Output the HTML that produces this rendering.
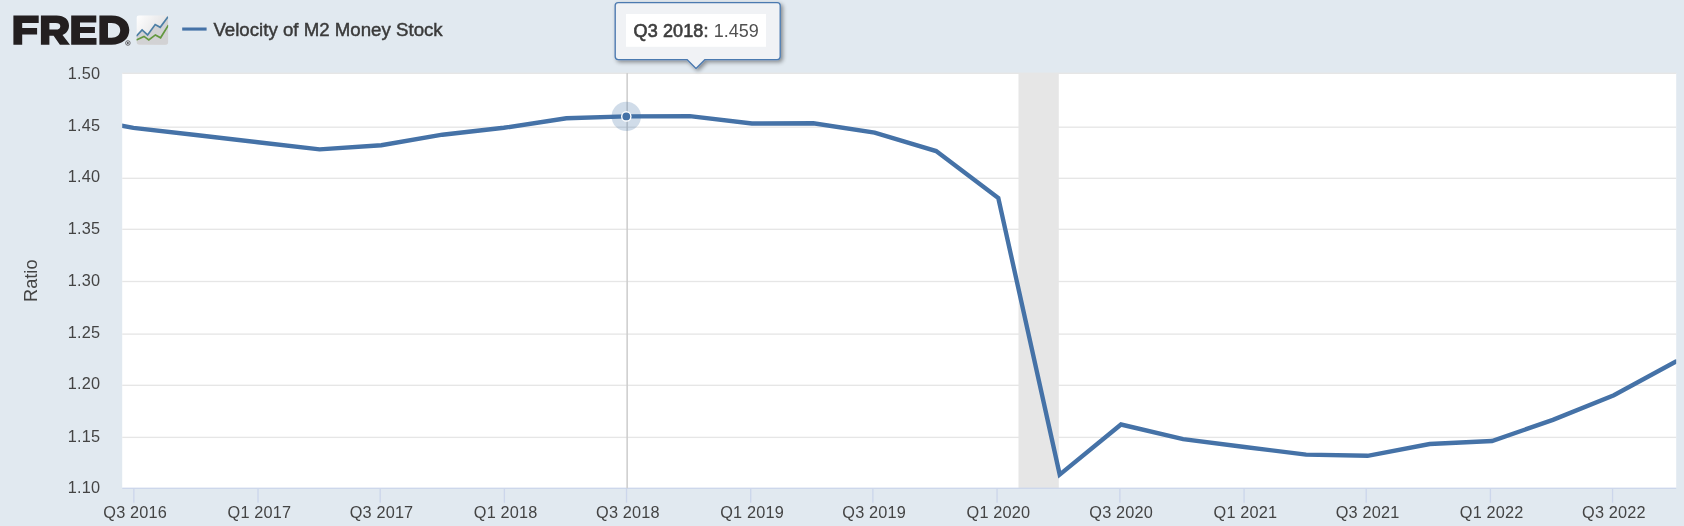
<!DOCTYPE html>
<html><head><meta charset="utf-8"><title>FRED Graph</title>
<style>
html,body{margin:0;padding:0;background:#e1e9f0;}
body{width:1684px;height:526px;overflow:hidden;font-family:"Liberation Sans",sans-serif;}
svg{display:block;will-change:transform;}
text{font-family:"Liberation Sans",sans-serif;}
</style></head><body>
<svg width="1684" height="526" viewBox="0 0 1684 526">
<defs>
<clipPath id="plotclip"><rect x="122.2" y="73.1" width="1554.0" height="415.20000000000005"/></clipPath>
<linearGradient id="icg" x1="0" y1="0" x2="1" y2="0.6"><stop offset="0" stop-color="#ffffff"/><stop offset="1" stop-color="#dcdcde"/></linearGradient>
<clipPath id="icclip"><rect x="136.5" y="15.3" width="31.7" height="29.5" rx="3"/></clipPath>
<filter id="tsh" x="-10%" y="-20%" width="125%" height="150%"><feGaussianBlur in="SourceAlpha" stdDeviation="1.9"/><feOffset dx="1.6" dy="1.6"/><feComponentTransfer><feFuncA type="linear" slope="0.42"/></feComponentTransfer><feMerge><feMergeNode/><feMergeNode in="SourceGraphic"/></feMerge></filter>
</defs>
<rect width="1684" height="526" fill="#e1e9f0"/>

<rect x="122.2" y="73.1" width="1554.0" height="415.20000000000005" fill="#ffffff"/>
<rect x="1018.5" y="73.1" width="40.3" height="415.20000000000005" fill="#e6e6e6"/>
<rect x="122.2" y="72.6" width="1554.0" height="1.4" fill="#e6e6e6"/>
<rect x="122.2" y="126.53" width="1554.0" height="1.34" fill="#e6e6e6"/>
<rect x="122.2" y="177.63" width="1554.0" height="1.34" fill="#e6e6e6"/>
<rect x="122.2" y="228.63" width="1554.0" height="1.34" fill="#e6e6e6"/>
<rect x="122.2" y="280.83" width="1554.0" height="1.34" fill="#e6e6e6"/>
<rect x="122.2" y="333.43" width="1554.0" height="1.34" fill="#e6e6e6"/>
<rect x="122.2" y="384.63" width="1554.0" height="1.34" fill="#e6e6e6"/>
<rect x="122.2" y="436.73" width="1554.0" height="1.34" fill="#e6e6e6"/>
<rect x="122.2" y="487.63" width="1554.0" height="1.34" fill="#ccd6eb"/>
<rect x="133.18" y="488.3" width="1.34" height="14.4" fill="#ccd6eb"/>
<rect x="257.36" y="488.3" width="1.34" height="14.4" fill="#ccd6eb"/>
<rect x="379.52" y="488.3" width="1.34" height="14.4" fill="#ccd6eb"/>
<rect x="503.70" y="488.3" width="1.34" height="14.4" fill="#ccd6eb"/>
<rect x="625.86" y="488.3" width="1.34" height="14.4" fill="#ccd6eb"/>
<rect x="750.04" y="488.3" width="1.34" height="14.4" fill="#ccd6eb"/>
<rect x="872.20" y="488.3" width="1.34" height="14.4" fill="#ccd6eb"/>
<rect x="996.38" y="488.3" width="1.34" height="14.4" fill="#ccd6eb"/>
<rect x="1119.21" y="488.3" width="1.34" height="14.4" fill="#ccd6eb"/>
<rect x="1243.39" y="488.3" width="1.34" height="14.4" fill="#ccd6eb"/>
<rect x="1365.55" y="488.3" width="1.34" height="14.4" fill="#ccd6eb"/>
<rect x="1489.73" y="488.3" width="1.34" height="14.4" fill="#ccd6eb"/>
<rect x="1611.89" y="488.3" width="1.34" height="14.4" fill="#ccd6eb"/>
<rect x="626.40" y="73.1" width="1.5" height="415.20000000000005" fill="#cccccc"/>
<g clip-path="url(#plotclip)"><polyline points="72.3,116.1 133.4,127.9 195.8,135.0 257.9,142.2 319.6,149.4 381.3,145.2 442.4,134.7 503.8,127.8 566.4,118.3 626.3,116.4 689.8,116.1 751.9,123.5 813.3,123.3 874.6,132.7 936.1,151.1 998.3,197.9 1059.7,474.6 1121.0,424.5 1183.1,439.1 1244.6,447.0 1306.1,454.6 1367.6,455.8 1429.7,444.0 1492.0,441.0 1552.9,419.9 1613.9,395.3 1676.0,361.5" fill="none" stroke="#4572a7" stroke-width="4.4" stroke-linejoin="miter" stroke-miterlimit="3" stroke-linecap="round"/></g>
<circle cx="626.3" cy="116.4" r="14.7" fill="#4572a7" fill-opacity="0.25"/>
<circle cx="626.3" cy="116.4" r="4.6" fill="#4572a7" stroke="#ffffff" stroke-width="1.4"/>
<text x="100.2" y="78.8" font-size="16.3" fill="#444444" text-anchor="end" letter-spacing="0.2">1.50</text>
<text x="100.2" y="131.0" font-size="16.3" fill="#444444" text-anchor="end" letter-spacing="0.2">1.45</text>
<text x="100.2" y="182.3" font-size="16.3" fill="#444444" text-anchor="end" letter-spacing="0.2">1.40</text>
<text x="100.2" y="234.0" font-size="16.3" fill="#444444" text-anchor="end" letter-spacing="0.2">1.35</text>
<text x="100.2" y="286.0" font-size="16.3" fill="#444444" text-anchor="end" letter-spacing="0.2">1.30</text>
<text x="100.2" y="338.0" font-size="16.3" fill="#444444" text-anchor="end" letter-spacing="0.2">1.25</text>
<text x="100.2" y="389.2" font-size="16.3" fill="#444444" text-anchor="end" letter-spacing="0.2">1.20</text>
<text x="100.2" y="441.9" font-size="16.3" fill="#444444" text-anchor="end" letter-spacing="0.2">1.15</text>
<text x="100.2" y="493.1" font-size="16.3" fill="#444444" text-anchor="end" letter-spacing="0.2">1.10</text>
<text transform="translate(37.3,280.7) rotate(-90)" font-size="18.2" fill="#444444" text-anchor="middle">Ratio</text>
<text x="135.2" y="517.8" font-size="16.3" fill="#444444" text-anchor="middle" letter-spacing="0.18">Q3 2016</text>
<text x="259.4" y="517.8" font-size="16.3" fill="#444444" text-anchor="middle" letter-spacing="0.18">Q1 2017</text>
<text x="381.5" y="517.8" font-size="16.3" fill="#444444" text-anchor="middle" letter-spacing="0.18">Q3 2017</text>
<text x="505.7" y="517.8" font-size="16.3" fill="#444444" text-anchor="middle" letter-spacing="0.18">Q1 2018</text>
<text x="627.9" y="517.8" font-size="16.3" fill="#444444" text-anchor="middle" letter-spacing="0.18">Q3 2018</text>
<text x="752.1" y="517.8" font-size="16.3" fill="#444444" text-anchor="middle" letter-spacing="0.18">Q1 2019</text>
<text x="874.2" y="517.8" font-size="16.3" fill="#444444" text-anchor="middle" letter-spacing="0.18">Q3 2019</text>
<text x="998.4" y="517.8" font-size="16.3" fill="#444444" text-anchor="middle" letter-spacing="0.18">Q1 2020</text>
<text x="1121.2" y="517.8" font-size="16.3" fill="#444444" text-anchor="middle" letter-spacing="0.18">Q3 2020</text>
<text x="1245.4" y="517.8" font-size="16.3" fill="#444444" text-anchor="middle" letter-spacing="0.18">Q1 2021</text>
<text x="1367.6" y="517.8" font-size="16.3" fill="#444444" text-anchor="middle" letter-spacing="0.18">Q3 2021</text>
<text x="1491.7" y="517.8" font-size="16.3" fill="#444444" text-anchor="middle" letter-spacing="0.18">Q1 2022</text>
<text x="1613.9" y="517.8" font-size="16.3" fill="#444444" text-anchor="middle" letter-spacing="0.18">Q3 2022</text>
<g fill="#231f20">
<path d="M13.4 15.4H38.7V22.9H22.2V27.9H37.1V34.6H22.2V44.8H13.4Z"/>
<path d="M40.9 15.4H56.5C64.5 15.4 69 19.6 69 25.6C69 30.3 66.6 33.4 62.5 35L70 44.8H59.9L53.6 35.8H49.4V44.8H40.9ZM49.4 22.9V29.6H55.8C58.6 29.6 60.3 28.3 60.3 26.2C60.3 24 58.6 22.9 55.8 22.9Z" fill-rule="evenodd"/>
<path d="M71.2 15.4H96.3V22.4H80V27.1H94.9V32.9H80V38H96.5V44.8H71.2Z"/>
<path d="M99.4 15.4H111.5C122.5 15.4 129.3 21.6 129.3 30.1C129.3 38.6 122.5 44.8 111.5 44.8H99.4ZM108 22.9V37.8H111.6C116.8 37.8 120.2 34.9 120.2 30.3C120.2 25.8 116.8 22.9 111.6 22.9Z" fill-rule="evenodd"/>
</g>
<circle cx="127.9" cy="43" r="2.3" fill="#e1e9f0" stroke="#231f20" stroke-width="0.6"/>
<rect x="127.1" y="41.9" width="1.5" height="2.2" fill="#231f20" opacity="0.75"/>

<g clip-path="url(#icclip)">
<rect x="136.4" y="15.3" width="31.9" height="29.6" fill="url(#icg)"/>
<path d="M136.3 36.2L142.1 29.9L147.6 34.9L155.2 24.5L160.2 27.3L168.4 16.4V45H136.3Z" fill="#d2d2d4"/>
<polyline points="136.3,36.2 142.1,29.9 147.6,34.9 155.2,24.5 160.2,27.3 168.2,16.6" fill="none" stroke="#4d7fa5" stroke-width="1.7" stroke-linejoin="miter"/>
<polyline points="136.3,40.1 144,36.4 148.8,40 155.4,34.9 160.6,37.8 168.4,25.2" fill="none" stroke="#63983f" stroke-width="1.7" stroke-linejoin="miter"/>
</g>
<rect x="182.2" y="27.5" width="24.4" height="3.1" fill="#4572a7"/>
<text x="213.4" y="36.1" font-size="18" fill="#3a3a3a" textLength="229.3" lengthAdjust="spacingAndGlyphs" stroke="#3a3a3a" stroke-width="0.45">Velocity of M2 Money Stock</text>
<g filter="url(#tsh)">
<path d="M618.2 2.6H777.2Q780.2 2.6 780.2 5.6V56.6Q780.2 59.6 777.2 59.6H705L696 68.4L687 59.6H618.2Q615.2 59.6 615.2 56.6V5.6Q615.2 2.6 618.2 2.6Z" fill="#f0f2f5" stroke="#4c7ab0" stroke-width="1.35" stroke-linejoin="round"/>
</g>
<rect x="626" y="14" width="140" height="32.8" fill="#ffffff"/>
<text x="633.6" y="37.2" font-size="18" fill="#505050"><tspan fill="#3e3e3e" stroke="#3e3e3e" stroke-width="0.65" letter-spacing="0.12">Q3 2018:</tspan> 1.459</text>

</svg></body></html>
